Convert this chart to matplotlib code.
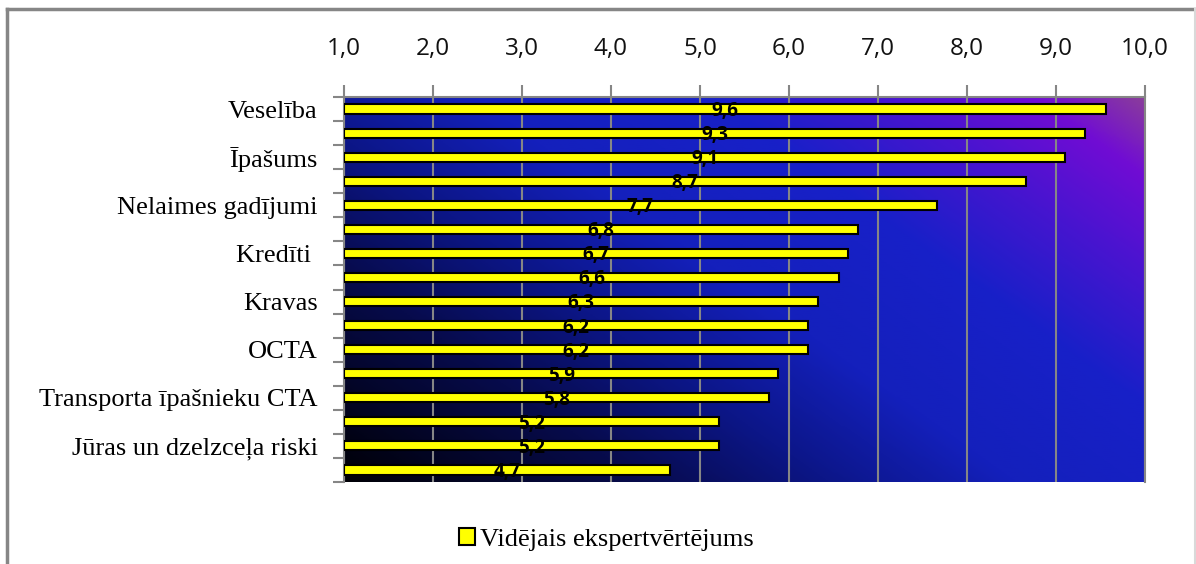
import numpy as np
import matplotlib
matplotlib.use("Agg")
import matplotlib.pyplot as plt
from matplotlib.colors import LinearSegmentedColormap
from matplotlib.patches import Patch
from matplotlib.lines import Line2D

# data (top bar first)
categories = ["Veselība", "", "Īpašums", "", "Nelaimes gadījumi", "", "Kredīti ", "",
              "Kravas", "", "OCTA", "", "Transporta īpašnieku CTA", "",
              "Jūras un dzelzceļa riski", ""]
values = [9.56, 9.33, 9.10, 8.66, 7.66, 6.78, 6.66, 6.56,
          6.33, 6.21, 6.21, 5.88, 5.77, 5.21, 5.21, 4.66]
x_ticks = [1, 2, 3, 4, 5, 6, 7, 8, 9, 10]
series_name = "Vidējais ekspertvērtējums"

gray = "#868686"
serif = "Liberation Serif"
sans = "Open Sans"

fig = plt.figure(figsize=(11.96, 5.64), dpi=100)
ax = fig.add_axes([344 / 1196, 1 - 482 / 564, 801 / 1196, 385 / 564])

# gradient background of the plot area
bg = LinearSegmentedColormap.from_list("bg", [
    (0.00, "#000006"), (0.22, "#070b4c"), (0.36, "#0c1688"),
    (0.50, "#1420bc"), (0.68, "#1820c8"), (0.82, "#4a14d0"),
    (0.92, "#700cd4"), (1.00, "#8a3c9c")])
u, v = np.meshgrid(np.linspace(0, 1, 300), np.linspace(1, 0, 200))
t = np.clip((0.62 * u + 0.42 * v) / 1.04, 0, 1)
ax.imshow(t, cmap=bg, extent=[1, 10, len(values) - 0.5, -0.5],
          aspect="auto", zorder=0, interpolation="bilinear")

y = np.arange(len(values))
ax.barh(y, np.array(values) - 1, left=1, height=0.38, color="#ffff00",
        edgecolor="black", linewidth=1.5, zorder=3)
for yi, val in zip(y, values):
    ax.text((1 + val) / 2, yi + 0.08, f"{val:.1f}".replace(".", ","),
            ha="center", va="center", fontsize=13.5, fontweight="bold",
            family=sans, color="black", zorder=4)

ax.set_xlim(1, 10)
ax.set_ylim(len(values) - 0.5, -0.5)
ax.xaxis.tick_top()
ax.set_xticks(x_ticks)
ax.set_xticklabels([f"{x:.1f}".replace(".", ",") for x in x_ticks],
                   family=sans, fontsize=17.5, color="#111111")
ax.tick_params(axis="x", length=9, width=1.5, color=gray, pad=17)
ax.grid(axis="x", color=gray, linewidth=1.5, zorder=1)

ax.set_yticks(y)
ax.set_yticklabels(categories, family=serif, fontsize=19, color="black")
ax.tick_params(axis="y", which="major", length=0, pad=19)
ax.set_yticks(np.arange(len(values) + 1) - 0.5, minor=True)
ax.tick_params(axis="y", which="minor", length=8, width=1.5, color=gray)

for side in ["top", "right", "left"]:
    ax.spines[side].set_color(gray)
    ax.spines[side].set_linewidth(1.5)
ax.spines["bottom"].set_visible(False)
ax.set_axisbelow(False)

# legend
leg = fig.legend(handles=[Patch(facecolor="#ffff00", edgecolor="black", linewidth=1.5)],
                 labels=[series_name], loc="center", bbox_to_anchor=(0.507, 0.044),
                 frameon=False, prop={"family": serif, "size": 19},
                 handlelength=0.6, handleheight=0.6, handletextpad=0.2)

# outer chart frame
fig.add_artist(Line2D([7 / 1196, 7 / 1196], [0, 1 - 9 / 564], color=gray, lw=2.5))
fig.add_artist(Line2D([7 / 1196, 1195 / 1196], [1 - 9 / 564, 1 - 9 / 564], color=gray, lw=2.5))
fig.add_artist(Line2D([1195 / 1196, 1195 / 1196], [0, 1 - 9 / 564], color="#d9d9d9", lw=1.5))

fig.savefig("out.png", dpi=100)
